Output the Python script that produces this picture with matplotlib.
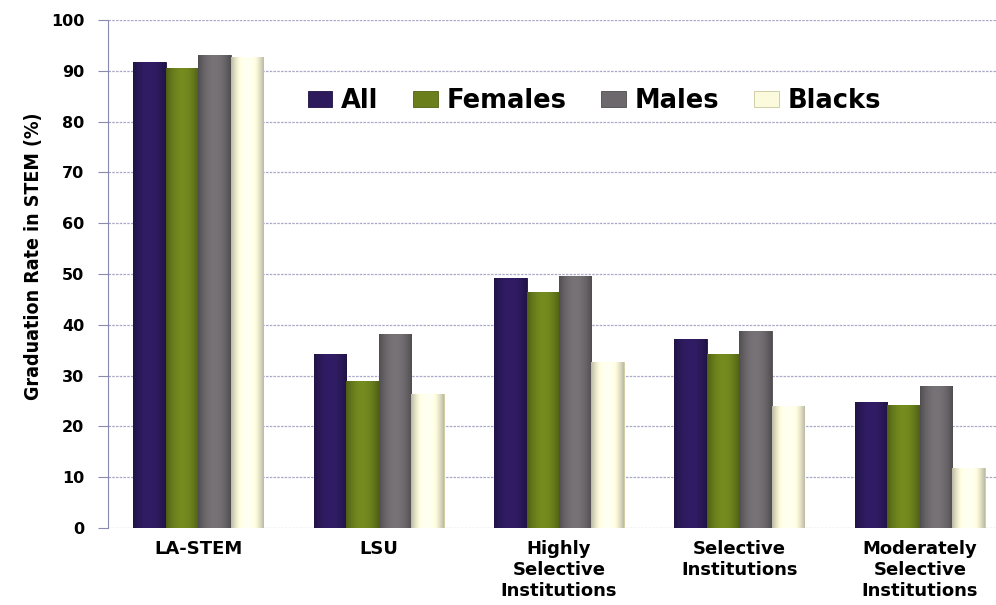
import numpy as np
import matplotlib
matplotlib.use("Agg")
import matplotlib.pyplot as plt
from matplotlib.colors import to_rgb

# data
categories = ["LA-STEM", "LSU", "Highly\nSelective\nInstitutions",
              "Selective\nInstitutions", "Moderately\nSelective\nInstitutions"]
series_names = ["All", "Females", "Males", "Blacks"]
all_vals = [91.8, 34.3, 49.3, 37.2, 24.8]
female_vals = [90.6, 29.0, 46.5, 34.3, 24.2]
male_vals = [93.1, 38.2, 49.6, 38.7, 28.0]
black_vals = [92.7, 26.3, 32.6, 24.0, 11.8]

colors = ["#2c1a5c", "#6a7f1c", "#6c686c", "#fbfadc"]
edges = ["#1c1040", "#4f6012", "#4d4a4d", "#c9c79a"]

fig = plt.figure(figsize=(9.96, 6.05), dpi=100)
ax = fig.add_axes([108 / 996, 1 - 528 / 605, 902 / 996, 508 / 605])

x = np.arange(len(categories))
w = 0.18
vals = [all_vals, female_vals, male_vals, black_vals]


def shaded(c):
    # rough cylinder-like shading across a bar
    base = np.array(to_rgb(c))
    t = np.linspace(-1, 1, 40)
    k = 0.75 + 0.35 * (1 - t ** 2)
    img = np.clip(base[None, :] * k[:, None], 0, 1)
    return img[None, :, :]


for i, v in enumerate(vals):
    bars = ax.bar(x + (i - 1.5) * w, v, width=w, color=colors[i], edgecolor=edges[i],
                  linewidth=0.6, label=series_names[i], zorder=3)
    for b in bars:
        x0, y0 = b.get_x(), b.get_y()
        im = ax.imshow(shaded(colors[i]), extent=[x0, x0 + b.get_width(), y0, y0 + b.get_height()],
                       aspect="auto", zorder=3.5, interpolation="bilinear")
        im.set_clip_path(b)

ax.set_xlim(-0.5, 4.5)
ax.set_ylim(0, 100)
ax.set_yticks(range(0, 101, 10))
ax.yaxis.grid(True, color="#a9a9c8", linestyle=(0, (2, 1)), linewidth=0.9, zorder=0)
ax.set_xticks(x)
ax.set_xticklabels(categories, fontsize=13, fontweight="bold", linespacing=1.18,
                   va="top")
ax.tick_params(axis="x", length=0, pad=9)
ax.tick_params(axis="y", labelsize=11.5, length=7, color="#8a8ab0", pad=10)
for lab in ax.get_yticklabels():
    lab.set_fontweight("bold")

for s in ["top", "right", "bottom"]:
    ax.spines[s].set_visible(False)
ax.spines["left"].set_color("#8a8ab0")

ax.set_ylabel("Graduation Rate in STEM (%)",
              family=["DejaVu Sans"], fontstretch="condensed",
              fontsize=14, fontweight="bold")
ax.yaxis.set_label_coords(-0.072, 0.535)

leg = ax.legend(ncol=4, loc="center left", bbox_to_anchor=(0.196, 0.84),
                frameon=False, prop={"size": 18.5, "weight": "bold"},
                handlelength=0.95, handleheight=0.55, columnspacing=1.35,
                handletextpad=0.35)

fig.savefig("out.png", dpi=100)
